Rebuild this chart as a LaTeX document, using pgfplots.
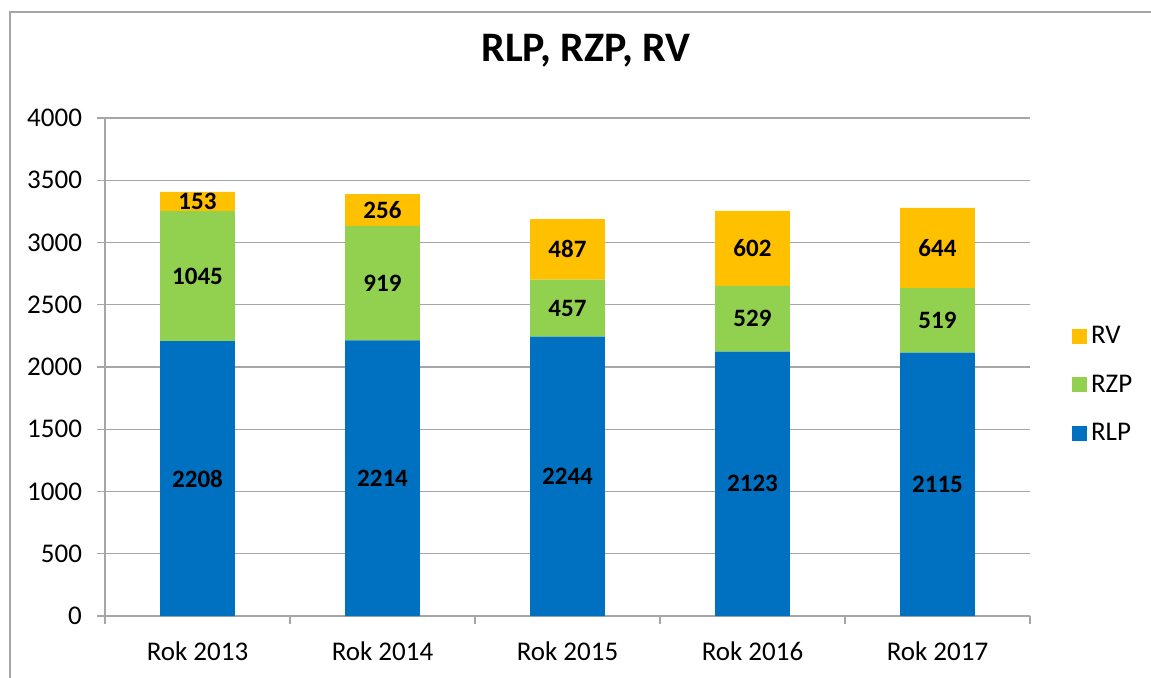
\documentclass[border=0pt]{standalone}
\usepackage{fontspec}
\setmainfont{Carlito}
\usepackage{pgfplots}
\pgfplotsset{compat=1.18}
\usepackage{pgfplotstable}
\definecolor{cblue}{HTML}{0070C0}
\definecolor{cgreen}{HTML}{92D050}
\definecolor{corange}{HTML}{FFC000}
\definecolor{gridgray}{HTML}{A6A6A6}

\pgfplotstableread{
x rlp rzp rv
0 2208 1045 153
1 2214 919 256
2 2244 457 487
3 2123 529 602
4 2115 519 644
}\datatable

\begin{document}
\begin{tikzpicture}
\begin{axis}[
  at={(52.5pt,30.5pt)}, anchor=south west,
  scale only axis, width=462.5pt, height=249pt,
  ybar stacked, bar width=0.405,
  xmin=-0.5, xmax=4.5, ymin=0, ymax=4000,
  ytick={0,500,...,4000},
  xtick={-0.5,0.5,1.5,2.5,3.5,4.5},
  xticklabels={,,,,,},
  extra x ticks={0,1,2,3,4},
  extra x tick labels={Rok 2013,Rok 2014,Rok 2015,Rok 2016,Rok 2017},
  extra x tick style={major tick length=0pt, grid=none},
  axis lines*=left,
  axis line style={gridgray, line width=0.7pt, -},
  tick align=outside,
  major tick length=4pt,
  tick style={gridgray, line width=0.7pt},
  ymajorgrids,
  grid style={gridgray, line width=0.7pt},
  /pgf/number format/assume math mode=true,
  /pgf/number format/1000 sep={},
  tick label style={font=\fontsize{13.5}{16}\selectfont, text=black},
  yticklabel style={xshift=-4pt},
  xticklabel style={yshift=-9.5pt},
  title={RLP, RZP, RV},
  title style={at={(0.52,1)}, anchor=base, yshift=22.5pt, font=\bfseries\fontsize{21}{25}\selectfont},
  nodes near coords,
  every node near coord/.append style={anchor=center, font=\bfseries\fontsize{12.5}{15}\selectfont, text=black},
  legend style={at={(1.045,0.464)}, anchor=west, draw=none, inner sep=0pt, row sep=10pt, font=\fontsize{13.5}{16}\selectfont},
  legend cell align=left,
  reverse legend,
  legend image code/.code={\fill[#1] (0pt,-3.75pt) rectangle (7.5pt,3.75pt);},
]
\addplot[fill=cblue, draw=none, point meta=explicit] table[x=x, y=rlp, meta=rlp] {\datatable};
\addplot[fill=cgreen, draw=none, point meta=explicit] table[x=x, y=rzp, meta=rzp] {\datatable};
\addplot[fill=corange, draw=none, point meta=explicit] table[x=x, y=rv, meta=rv] {\datatable};
\legend{RLP,RZP,RV}
\end{axis}
\draw[gridgray, line width=0.75pt] (5pt,-5pt) -- (5pt,332.5pt) -- (580pt,332.5pt);
\pgfresetboundingbox
\useasboundingbox (0pt,0pt) rectangle (575.5pt,338.5pt);
\end{tikzpicture}
\end{document}
